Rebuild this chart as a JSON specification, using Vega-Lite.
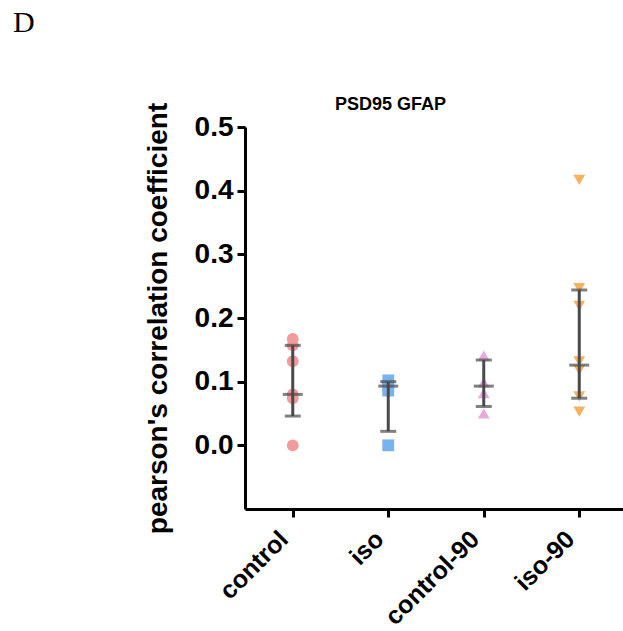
{
  "$schema": "https://vega.github.io/schema/vega-lite/v6.json",
  "padding": {"left": 13, "top": 8, "right": 0, "bottom": 0},
  "title": {
    "text": "D",
    "anchor": "start",
    "font": "Liberation Serif",
    "fontSize": 30,
    "fontWeight": "normal",
    "color": "black",
    "dx": -131,
    "offset": 58
  },
  "datasets": {
    "points": [
      {"group": "control", "value": 0.167},
      {"group": "control", "value": 0.157},
      {"group": "control", "value": 0.132},
      {"group": "control", "value": 0.080},
      {"group": "control", "value": 0.074},
      {"group": "control", "value": 0.0},
      {"group": "iso", "value": 0.102},
      {"group": "iso", "value": 0.094},
      {"group": "iso", "value": 0.086},
      {"group": "iso", "value": 0.0},
      {"group": "control-90", "value": 0.141},
      {"group": "control-90", "value": 0.099},
      {"group": "control-90", "value": 0.082},
      {"group": "control-90", "value": 0.050},
      {"group": "iso-90", "value": 0.417},
      {"group": "iso-90", "value": 0.247},
      {"group": "iso-90", "value": 0.219},
      {"group": "iso-90", "value": 0.132},
      {"group": "iso-90", "value": 0.118},
      {"group": "iso-90", "value": 0.077},
      {"group": "iso-90", "value": 0.053}
    ],
    "summary": [
      {"group": "control", "median": 0.080, "q1": 0.046, "q3": 0.157},
      {"group": "iso", "median": 0.093, "q1": 0.022, "q3": 0.100},
      {"group": "control-90", "median": 0.093, "q1": 0.061, "q3": 0.134},
      {"group": "iso-90", "median": 0.126, "q1": 0.074, "q3": 0.244}
    ]
  },
  "vconcat": [
    {
      "width": 382,
      "height": 382,
      "title": {
        "text": "PSD95 GFAP",
        "anchor": "start",
        "frame": "group",
        "dx": 90,
        "fontSize": 18,
        "fontWeight": "bold",
        "font": "Liberation Sans",
        "color": "black",
        "offset": -12
      },
      "encoding": {
        "x": {
          "field": "group",
          "type": "nominal",
          "sort": ["control", "iso", "control-90", "iso-90"],
          "scale": {"type": "point", "padding": 0.5},
          "axis": {
            "title": null,
            "labelAngle": -45,
            "labelAlign": "right",
            "labelBaseline": "bottom",
            "labelFontSize": 25,
            "labelPadding": 27
          }
        }
      },
      "layer": [
        {
          "data": {"name": "points"},
          "mark": {"type": "point", "filled": true, "opacity": 1, "size": 140},
          "encoding": {
            "y": {
              "field": "value",
              "type": "quantitative",
              "scale": {"domain": [-0.1, 0.5], "nice": false, "zero": false},
              "axis": {
                "title": "pearson's correlation coefficient",
                "values": [0, 0.1, 0.2, 0.3, 0.4, 0.5],
                "format": ".1f",
                "labelFontSize": 28,
                "titleFontSize": 28,
                "labelPadding": 4,
                "titlePadding": 22
              }
            },
            "color": {
              "field": "group",
              "type": "nominal",
              "scale": {
                "domain": ["control", "iso", "control-90", "iso-90"],
                "range": ["#F39A9A", "#79B3EC", "#EAA8DC", "#F6B25E"]
              },
              "legend": null
            },
            "shape": {
              "field": "group",
              "type": "nominal",
              "scale": {
                "domain": ["control", "iso", "control-90", "iso-90"],
                "range": ["circle", "square", "triangle-up", "triangle-down"]
              },
              "legend": null
            }
          }
        },
        {
          "data": {"name": "summary"},
          "mark": {"type": "rule", "color": "#4a4a4a", "strokeWidth": 3},
          "encoding": {
            "y": {"field": "q1", "type": "quantitative"},
            "y2": {"field": "q3"}
          }
        },
        {
          "data": {"name": "summary"},
          "mark": {"type": "tick", "color": "#4a4a4a", "thickness": 3, "size": 16},
          "encoding": {"y": {"field": "q1", "type": "quantitative"}}
        },
        {
          "data": {"name": "summary"},
          "mark": {"type": "tick", "color": "#4a4a4a", "thickness": 3, "size": 16},
          "encoding": {"y": {"field": "q3", "type": "quantitative"}}
        },
        {
          "data": {"name": "summary"},
          "mark": {"type": "tick", "color": "#4a4a4a", "thickness": 3, "size": 20},
          "encoding": {"y": {"field": "median", "type": "quantitative"}}
        }
      ]
    }
  ],
  "config": {
    "font": "Liberation Sans",
    "view": {"stroke": null},
    "axis": {
      "grid": false,
      "domainColor": "black",
      "domainWidth": 3,
      "tickColor": "black",
      "tickWidth": 3,
      "tickSize": 8,
      "labelColor": "black",
      "titleColor": "black",
      "labelFont": "Liberation Sans",
      "titleFont": "Liberation Sans",
      "labelFontWeight": "bold",
      "titleFontWeight": "bold"
    }
  }
}
